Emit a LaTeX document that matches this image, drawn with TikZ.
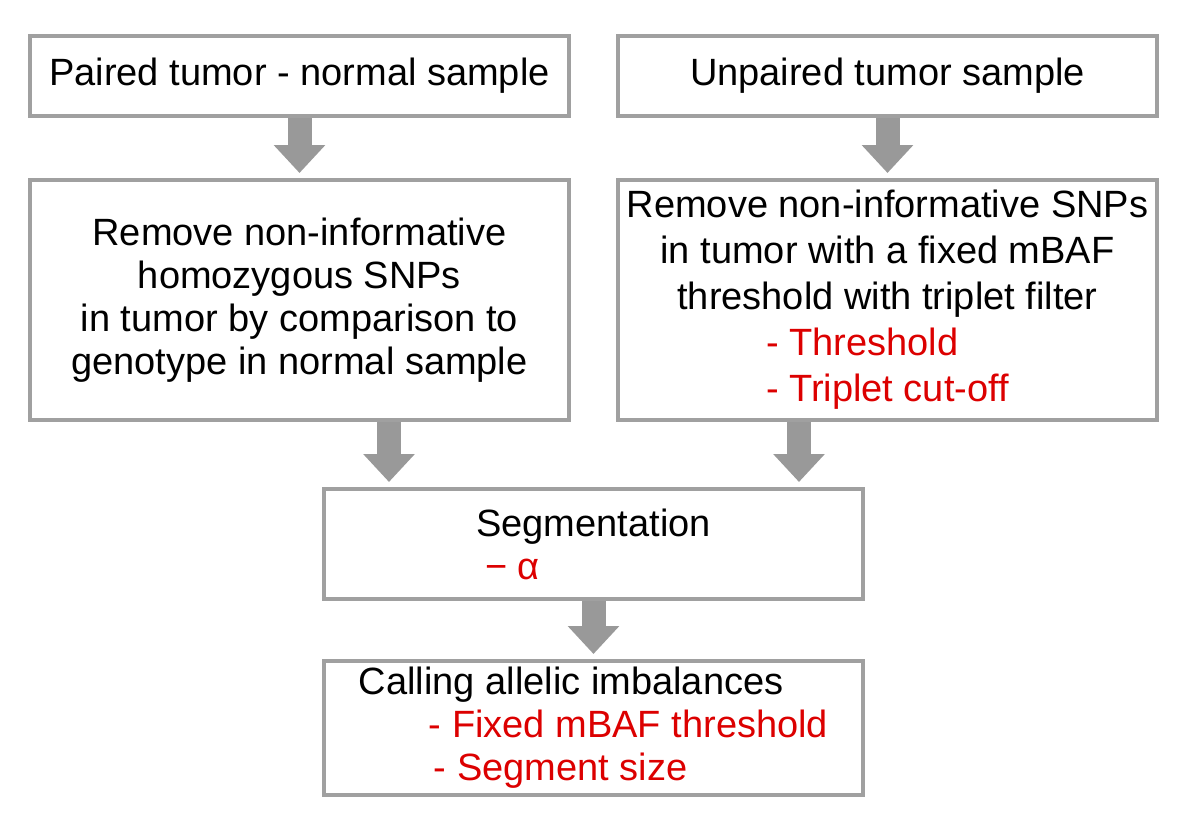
\documentclass[tikz,border=0pt]{standalone}
\usepackage{fontspec}
\setmainfont{Liberation Sans}
\usepackage{tikz}
\usepackage{xcolor}
\definecolor{boxgray}{RGB}{160,160,160}
\definecolor{arrowgray}{RGB}{153,153,153}
\definecolor{paramred}{RGB}{220,0,0}
\usetikzlibrary{positioning, calc, arrows.meta}
\tikzstyle{Box} = [
draw=boxgray,
line width=2pt,
minimum width=269.5pt,
inner sep=0pt,
align=center,
font=\fontsize{19pt}{21.5pt}\selectfont]
\tikzstyle{Arrow} = [
line width=12pt,
arrowgray,
-{Triangle[width=25pt, length=14pt]},
shorten >= 2.5pt]

\newcommand{\param}[1]{\textcolor{paramred}{#1}}

\begin{document}
\begin{tikzpicture}[x=0.5pt, y=0.5pt]
    \useasboundingbox (0,0) rectangle (1200,-835);

    \node [Box, minimum height=40pt] (paired) at (299.5,-76) {Paired tumor - normal sample};
    \node [Box, minimum height=40pt, right =22.5pt of paired] (unpaired) {Unpaired tumor sample};
    \node [Box, minimum height=120pt, below =30pt of paired] (homozygous) {Remove non-informative\\homozygous SNPs\\in tumor by comparison to\\genotype in normal sample};
    \node [Box, minimum height=120pt, below =30pt of unpaired, font=\fontsize{19pt}{23pt}\selectfont] (triplet) {Remove non-informative SNPs\\in tumor with a fixed mBAF\\threshold with triplet filter\\\rlap{\param{- Threshold}}\phantom{- Triplet cut-off}\\\param{- Triplet cut-off}};
    \coordinate (mid) at ($(homozygous.south)!0.5!(triplet.south)$);
    \node [Box, minimum height=55pt, below =32.5pt of mid, align=left] (segmentation) {Segmentation\\\hspace*{4.5pt}\param{− α}};
    \node [Box, minimum height=67pt, below =29pt of segmentation, align=left] (calling) {Calling allelic imbalances\\\hspace*{35pt}\param{- Fixed mBAF threshold}\\\hspace*{37.5pt}\param{- Segment size}};

    \coordinate (segin1) at ([xshift=33.5pt]segmentation.north west);
    \coordinate (segin2) at ([xshift=-33pt]segmentation.north east);

    \draw[Arrow] (paired) -- (homozygous);
    \draw[Arrow] (unpaired) -- (triplet);
    \draw[Arrow] (segin1 |- homozygous.south) -- (segin1);
    \draw[Arrow] (segin2 |- triplet.south) -- (segin2);
    \draw[Arrow] (segmentation) -- (calling);
\end{tikzpicture}
\end{document}
